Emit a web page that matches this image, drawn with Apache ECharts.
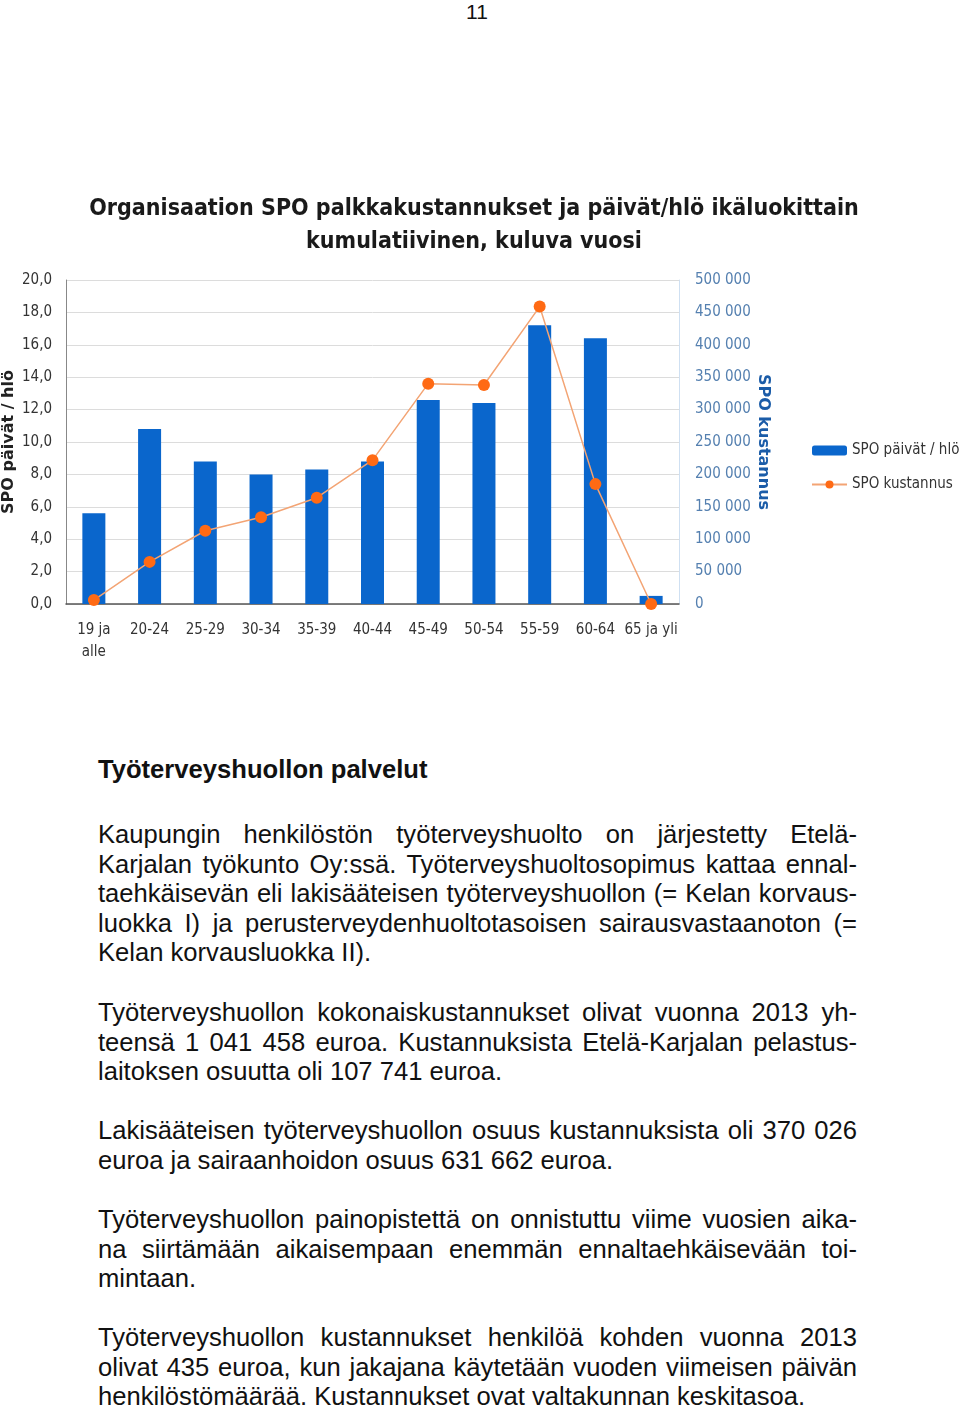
<!DOCTYPE html>
<html>
<head>
<meta charset="utf-8">
<script src="https://cdn.jsdelivr.net/npm/echarts@6/dist/echarts.min.js"></script>
<style>
  html, body { margin: 0; padding: 0; background: #fff; }
  #page { position: relative; width: 960px; height: 1409px; overflow: hidden; font-family: 'Liberation Sans', Arial, sans-serif; color: #111; }
  #chart { position: absolute; left: 0; top: 0; width: 960px; height: 700px; }
  .pnum { position: absolute; left: 0; width: 954px; top: 0; text-align: center; font-size: 21px; line-height: 24px; }
  .h { position: absolute; left: 98px; top: 755px; font-size: 25.6px; font-weight: bold; line-height: 29.6px; }
  .p { position: absolute; left: 98px; width: 759px; font-size: 25.6px; line-height: 29.6px; }
  .p div { text-align: justify; text-align-last: justify; white-space: nowrap; }
  .p div.last { text-align-last: left; }
</style>
</head>
<body>
<div id="page">
  <div class="pnum">11</div>
  <div id="chart"></div>
  <div class="h">Työterveyshuollon palvelut</div>
  <div class="p" style="top:820px">
    <div>Kaupungin henkilöstön työterveyshuolto on järjestetty Etelä-</div>
    <div>Karjalan työkunto Oy:ssä. Työterveyshuoltosopimus kattaa ennal-</div>
    <div>taehkäisevän eli lakisääteisen työterveyshuollon (= Kelan korvaus-</div>
    <div>luokka I) ja perusterveydenhuoltotasoisen sairausvastaanoton (=</div>
    <div class="last">Kelan korvausluokka II).</div>
  </div>
  <div class="p" style="top:998px">
    <div>Työterveyshuollon kokonaiskustannukset olivat vuonna 2013 yh-</div>
    <div>teensä 1 041 458 euroa. Kustannuksista Etelä-Karjalan pelastus-</div>
    <div class="last">laitoksen osuutta oli 107 741 euroa.</div>
  </div>
  <div class="p" style="top:1116px">
    <div>Lakisääteisen työterveyshuollon osuus kustannuksista oli 370 026</div>
    <div class="last">euroa ja sairaanhoidon osuus 631 662 euroa.</div>
  </div>
  <div class="p" style="top:1205px">
    <div>Työterveyshuollon painopistettä on onnistuttu viime vuosien aika-</div>
    <div>na siirtämään aikaisempaan enemmän ennaltaehkäisevään toi-</div>
    <div class="last">mintaan.</div>
  </div>
  <div class="p" style="top:1323px">
    <div>Työterveyshuollon kustannukset henkilöä kohden vuonna 2013</div>
    <div>olivat 435 euroa, kun jakajana käytetään vuoden viimeisen päivän</div>
    <div class="last">henkilöstömäärää. Kustannukset ovat valtakunnan keskitasoa.</div>
  </div>
</div>
<script>
const categories = ['19 ja\nalle', '20-24', '25-29', '30-34', '35-39', '40-44', '45-49', '50-54', '55-59', '60-64', '65 ja yli'];
const spoPaivat = [5.6, 10.8, 8.8, 8.0, 8.3, 8.8, 12.6, 12.4, 17.2, 16.4, 0.5];
const spoKustannus = [6000, 65000, 113000, 134000, 164000, 222000, 340000, 338000, 459000, 185000, 0];
const chartTitle = 'Organisaation SPO palkkakustannukset ja päivät/hlö ikäluokittain\nkumulatiivinen, kuluva vuosi';

const font = "'DejaVu Sans Condensed', 'DejaVu Sans', sans-serif";
const chart = echarts.init(document.getElementById('chart'));
chart.setOption({
  animation: false,
  title: {
    text: chartTitle,
    left: 469, top: 188, textAlign: 'center',
    textStyle: { fontFamily: font, fontWeight: 'bold', fontSize: 23, lineHeight: 33, color: '#1a1a1a' }
  },
  legend: {
    orient: 'vertical', left: 806, top: 438, itemWidth: 35, itemHeight: 10, itemGap: 19,
    textStyle: { fontFamily: font, fontSize: 15, color: '#333' },
    data: ['SPO päivät / hlö', 'SPO kustannus']
  },
  grid: { left: 66, right: 281, top: 280, height: 324, outerBoundsMode: 'none', containLabel: false },
  xAxis: {
    type: 'category', data: categories,
    axisTick: { show: false },
    axisLine: { lineStyle: { color: '#555', width: 1.5 } },
    axisLabel: { fontFamily: font, fontSize: 15, color: '#333', margin: 15, lineHeight: 22, interval: 0 }
  },
  yAxis: [
    {
      type: 'value', min: 0, max: 20, interval: 2,
      name: 'SPO päivät / hlö', nameLocation: 'middle', nameGap: 49, nameRotate: 90, nameMoveOverlap: false,
      nameTextStyle: { fontFamily: "'DejaVu Sans', sans-serif", fontWeight: 'bold', fontSize: 16, color: '#222' },
      axisLine: { show: true, lineStyle: { color: '#888' } },
      splitLine: { lineStyle: { color: '#dcdcdc' } },
      axisLabel: { fontFamily: font, fontSize: 15, color: '#333', margin: 14,
        formatter: v => v.toFixed(1).replace('.', ',') }
    },
    {
      type: 'value', min: 0, max: 500000, interval: 50000, position: 'right',
      name: 'SPO kustannus', nameLocation: 'middle', nameGap: 76, nameRotate: -90, nameMoveOverlap: false,
      nameTextStyle: { fontFamily: "'DejaVu Sans', sans-serif", fontWeight: 'bold', fontSize: 16, color: '#1b5ca8' },
      axisLine: { show: true, lineStyle: { color: '#cfe0f2' } },
      splitLine: { show: false },
      axisLabel: { fontFamily: font, fontSize: 15, color: '#5580b0', margin: 16, align: 'left',
        formatter: v => String(v).replace(/\B(?=(\d{3})+(?!\d))/g, ' ') }
    }
  ],
  series: [
    {
      name: 'SPO päivät / hlö', type: 'bar', data: spoPaivat, yAxisIndex: 0,
      barWidth: 23, itemStyle: { color: '#0a66cc' }
    },
    {
      name: 'SPO kustannus', type: 'line', data: spoKustannus, yAxisIndex: 1,
      symbol: 'circle', symbolSize: 12,
      lineStyle: { color: '#f3a474', width: 1.5 },
      itemStyle: { color: '#ff6a14' }
    }
  ]
});
</script>
</body>
</html>
